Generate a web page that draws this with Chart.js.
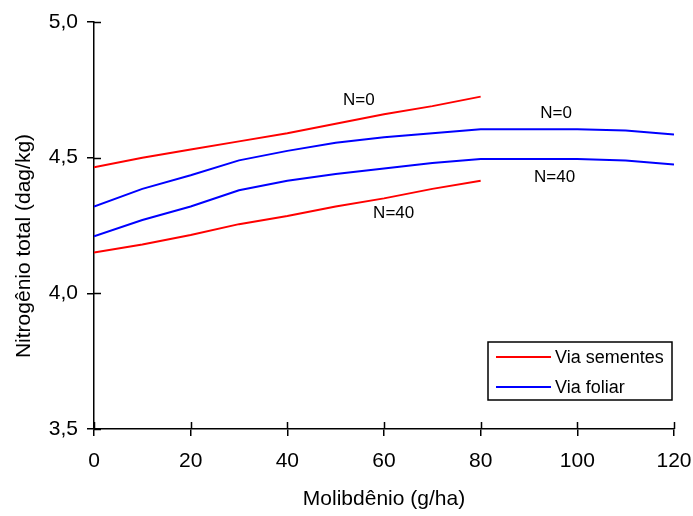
<!DOCTYPE html>
<html>
<head>
<meta charset="utf-8">
<script src="https://cdn.jsdelivr.net/npm/chart.js@4"></script>
<style>
  html, body { margin: 0; padding: 0; background: #fff; }
  canvas { display: block; }
</style>
</head>
<body>
<canvas id="grafico" width="693" height="516"></canvas>
<script>
// ======== Dados ========
const doses = [0, 10, 20, 30, 40, 50, 60, 70, 80, 90, 100, 110, 120];
const sementesN0 = [4.465, 4.50, 4.53, 4.56, 4.59, 4.625, 4.66, 4.69, 4.725];
const sementesN40 = [4.15, 4.18, 4.215, 4.255, 4.285, 4.32, 4.35, 4.385, 4.415];
const foliarN0 = [4.32, 4.385, 4.435, 4.49, 4.525, 4.555, 4.575, 4.59, 4.605, 4.605, 4.605, 4.60, 4.585];
const foliarN40 = [4.21, 4.27, 4.32, 4.38, 4.415, 4.44, 4.46, 4.48, 4.495, 4.495, 4.495, 4.49, 4.475];
const yTicks = [3.5, 4.0, 4.5, 5.0];
const xTicks = [0, 20, 40, 60, 80, 100, 120];

// rótulos das curvas (em coordenadas dos dados)
const rotulos = [
    { texto: 'N=0', x: 54.8, y: 4.713 },
    { texto: 'N=0', x: 95.6, y: 4.662 },
    { texto: 'N=40', x: 95.3, y: 4.427 },
    { texto: 'N=40', x: 62, y: 4.294 }
];

const fonte = "'Liberation Sans', Arial, sans-serif";

function pontos(valores) {
    return valores.map((v, i) => ({ x: doses[i], y: v }));
}

function serie(valores, cor) {
    return {
        data: pontos(valores),
        borderColor: cor,
        borderWidth: 2,
        pointRadius: 0,
        tension: 0,
        fill: false
    };
}

// ======== Plugin: marcas cruzando o eixo, rótulos, título do eixo y e legenda ========
const extras = {
    id: 'extras',
    afterDraw(chart) {
        const ctx = chart.ctx;
        const xs = chart.scales.x;
        const ys = chart.scales.y;
        const area = chart.chartArea;

        ctx.save();
        ctx.strokeStyle = '#000';
        ctx.lineWidth = 1.5;
        ctx.beginPath();
        xTicks.forEach(t => {
            const px = Math.round(xs.getPixelForValue(t)) + 0.5;
            ctx.moveTo(px, area.bottom);
            ctx.lineTo(px, area.bottom - 7);
        });
        yTicks.forEach(t => {
            const py = Math.round(ys.getPixelForValue(t)) + 0.5;
            ctx.moveTo(area.left, py);
            ctx.lineTo(area.left + 7, py);
        });
        ctx.stroke();

        // rótulos das curvas
        ctx.fillStyle = '#000';
        ctx.font = '17px ' + fonte;
        ctx.textAlign = 'center';
        ctx.textBaseline = 'middle';
        rotulos.forEach(r => {
            ctx.fillText(r.texto, xs.getPixelForValue(r.x), ys.getPixelForValue(r.y));
        });

        // título do eixo y
        ctx.save();
        ctx.font = '21px ' + fonte;
        ctx.translate(24, area.top + 224);
        ctx.rotate(-Math.PI / 2);
        ctx.fillText('Nitrogênio total (dag/kg)', 0, 0);
        ctx.restore();

        // legenda
        const bx = area.right - 186;
        const by = area.bottom - 87;
        ctx.lineWidth = 1.5;
        ctx.strokeRect(bx, by, 184, 58);
        const itens = [['Via sementes', '#ff0000'], ['Via foliar', '#0000ff']];
        ctx.textAlign = 'left';
        ctx.font = '18px ' + fonte;
        itens.forEach((it, i) => {
            const ly = by + 15 + i * 30;
            ctx.strokeStyle = it[1];
            ctx.lineWidth = 2;
            ctx.beginPath();
            ctx.moveTo(bx + 8, ly);
            ctx.lineTo(bx + 63, ly);
            ctx.stroke();
            ctx.fillText(it[0], bx + 67, ly + 1);
        });
        ctx.restore();
    }
};

new Chart(document.getElementById('grafico'), {
    type: 'line',
    data: {
        datasets: [
            serie(sementesN0, '#ff0000'),
            serie(sementesN40, '#ff0000'),
            serie(foliarN0, '#0000ff'),
            serie(foliarN40, '#0000ff')
        ]
    },
    options: {
        responsive: false,
        animation: false,
        layout: { padding: { top: 22, right: 19, left: 0, bottom: 0 } },
        plugins: {
            legend: { display: false },
            tooltip: { enabled: false }
        },
        scales: {
            x: {
                type: 'linear',
                min: 0,
                max: 120,
                afterBuildTicks: s => { s.ticks = xTicks.map(v => ({ value: v })); },
                afterFit: s => { s.height = 87; s.paddingLeft = 0; s.paddingRight = 0; },
                border: { color: '#000', width: 1.5 },
                grid: { drawOnChartArea: false, color: '#000', lineWidth: 1.5, tickLength: 7 },
                ticks: {
                    color: '#000',
                    font: { family: fonte, size: 21 },
                    padding: 13,
                    maxRotation: 0
                },
                title: {
                    display: true,
                    text: 'Molibdênio (g/ha)',
                    color: '#000',
                    font: { family: fonte, size: 21 },
                    padding: { top: 0, bottom: 4 }
                }
            },
            y: {
                type: 'linear',
                min: 3.5,
                max: 5.0,
                afterBuildTicks: s => { s.ticks = yTicks.map(v => ({ value: v })); },
                afterFit: s => { s.width = 94; s.paddingTop = 0; s.paddingBottom = 0; },
                border: { color: '#000', width: 1.5 },
                grid: { drawOnChartArea: false, color: '#000', lineWidth: 1.5, tickLength: 7 },
                ticks: {
                    color: '#000',
                    font: { family: fonte, size: 21 },
                    padding: 9,
                    callback: v => v.toFixed(1).replace('.', ',')
                }
            }
        }
    },
    plugins: [extras]
});
</script>
</body>
</html>
